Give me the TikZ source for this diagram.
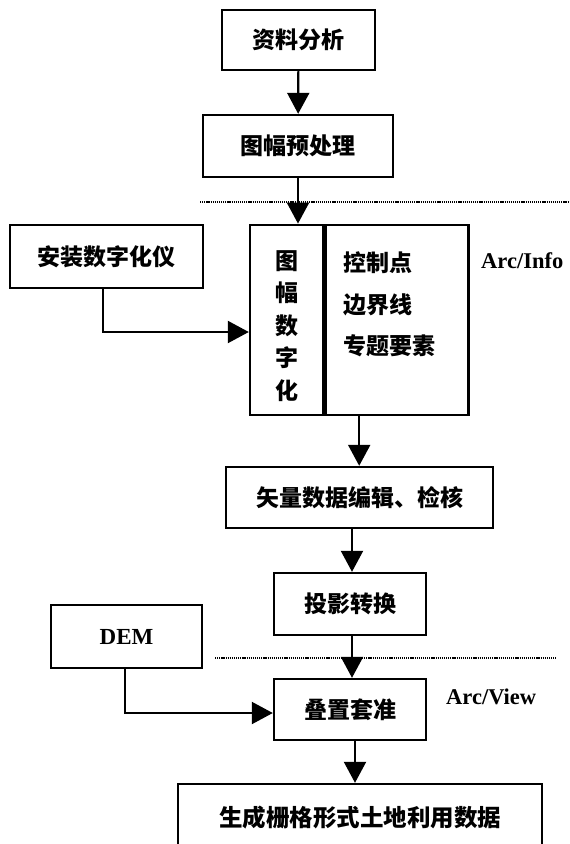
\documentclass[tikz,border=0pt]{standalone}
\usepackage{fontspec}
\setmainfont{Liberation Serif}
\newfontfamily\cjk{Noto Sans CJK SC}
\usetikzlibrary{arrows.meta,fit}
\begin{document}
\begin{tikzpicture}[x=1pt,y=-1pt,
  box/.style={draw,line width=2.4pt,inner sep=0pt,font=\cjk\bfseries\fontsize{23}{28}\selectfont},
  arr/.style={line width=2.2pt,-{Triangle[width=22pt,length=21pt]}},
  dots/.style={line width=1.3pt,dash pattern=on 1.2pt off 0.9pt},
  lab/.style={font=\bfseries\fontsize{22.5}{28}\selectfont,inner sep=0pt}]
\clip (0,0) rectangle (570,844);
\useasboundingbox (0,0) rectangle (570,844);
\fill[white] (0,0) rectangle (570,844);
\node[box,minimum width=153pt,minimum height=60pt] (b1) at (298.5,40) {资料分析};
\node[box,minimum width=190pt,minimum height=62pt] (b2) at (298,146) {图幅预处理};
\node[box,minimum width=193pt,minimum height=63pt] (inst) at (106.5,256.5) {安装数字化仪};
\node[box,minimum width=73pt,minimum height=190pt] (left) at (286.5,320) {};
\node[box,minimum width=143pt,minimum height=190pt,anchor=west] (right) at (left.east) {};
\node[fit=(left)(right),inner sep=0pt] (big) {};
\node[font=\cjk\bfseries\fontsize{23}{32.5}\selectfont,align=center,inner sep=0pt] (vt) at (287,326) {图\\幅\\数\\字\\化};
\node[font=\cjk\bfseries\fontsize{23}{41.5}\selectfont,align=left,inner sep=0pt,anchor=west] (rt) at (343,304.5) {控制点\\边界线\\专题要素};
\node[lab,anchor=west] (ai) at (481,261) {Arc/Info};
\node[box,minimum width=267pt,minimum height=61pt] (vec) at (359.5,497.5) {矢量数据编辑、检核};
\node[box,minimum width=152pt,minimum height=62pt] (proj) at (350,604) {投影转换};
\node[box,minimum width=151pt,minimum height=63pt,font=\bfseries\fontsize{23}{28}\selectfont] (dem) at (126.5,636.5) {DEM};
\node[box,minimum width=152pt,minimum height=61pt] (ov) at (350,709.5) {叠置套准};
\node[lab,anchor=west] (av) at (446,697) {Arc/View};
\node[box,minimum width=364pt,minimum height=68pt,font=\cjk\bfseries\fontsize{23.5}{28}\selectfont] (fin) at (360,818) {生成栅格形式土地利用数据};
\coordinate (d1a) at (200,202);
\coordinate (d1b) at (570,202);
\coordinate (d2a) at (215,658);
\coordinate (d2b) at (556,658);
\coordinate (k1) at (0,332);
\coordinate (k2) at (0,713);
\coordinate (k3) at (352,0);
\coordinate (k4) at (355,0);
\draw[dots] (d1a) -- (d1b);
\draw[dots] (d2a) -- (d2b);
\draw[arr] (b1) -- (b2);
\draw[arr] (b2.south) -- (b2.south |- big.north);
\draw[arr] (inst.south -| 103,0) |- (left.west |- k1);
\draw[arr] (big.south) -- (big.south |- vec.north);
\draw[arr] (vec.south -| k3) -- (proj.north -| k3);
\draw[arr] (proj.south -| k3) -- (ov.north -| k3);
\draw[arr] (dem.south -| 125,0) |- (ov.west |- k2);
\draw[arr] (ov.south -| k4) -- (fin.north -| k4);
\end{tikzpicture}
\end{document}
